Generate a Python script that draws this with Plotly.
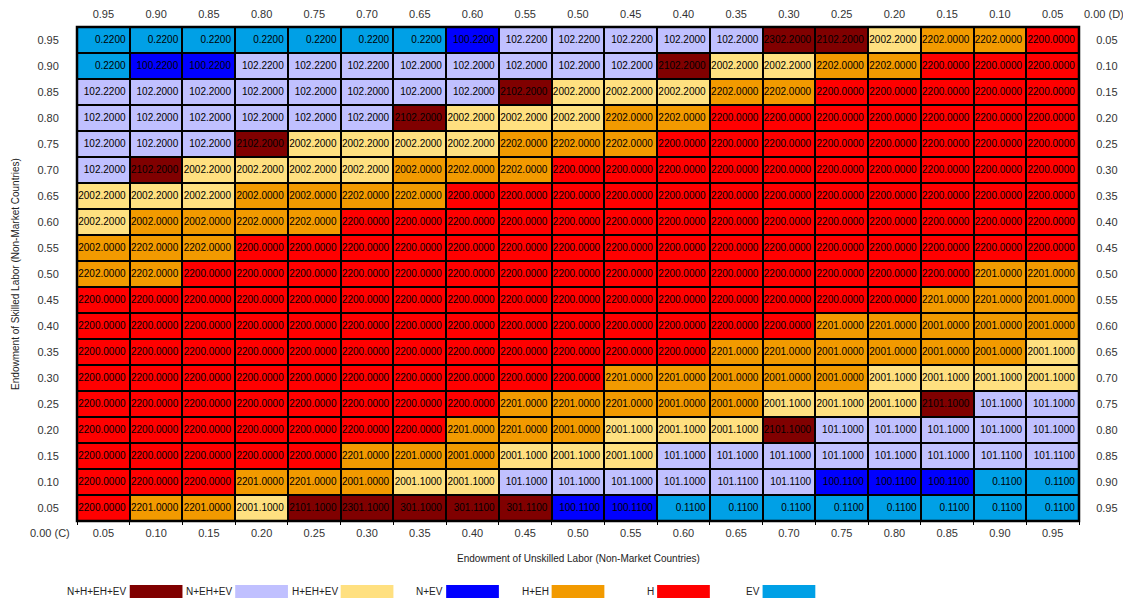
"""
Equilibrium regime map: skilled vs unskilled labour endowment (non-market countries).
"""

import plotly.graph_objects as go

FONT = "Liberation Sans, Arial, sans-serif"
PAGE_PAD = 8  # default body margin of the html page

# column / row values
UNSKILLED = [0.05, 0.10, 0.15, 0.20, 0.25, 0.30, 0.35, 0.40, 0.45, 0.50,
             0.55, 0.60, 0.65, 0.70, 0.75, 0.80, 0.85, 0.90, 0.95]
SKILLED_TOP_DOWN = [0.95, 0.90, 0.85, 0.80, 0.75, 0.70, 0.65, 0.60, 0.55, 0.50,
                    0.45, 0.40, 0.35, 0.30, 0.25, 0.20, 0.15, 0.10, 0.05]

# regime codes, one row per skilled value (top row = 0.95), left -> right = unskilled 0.05 .. 0.95
CODES = [
    [0.22, 0.22, 0.22, 0.22, 0.22, 0.22, 0.22, 100.22, 102.22, 102.22, 102.22, 102.20, 102.20, 2302.20, 2102.20, 2002.20, 2202.00, 2202.00, 2200.00],
    [0.22, 100.22, 100.22, 102.22, 102.22, 102.22, 102.20, 102.20, 102.20, 102.20, 102.20, 2102.20, 2002.20, 2002.20, 2202.00, 2202.00, 2200.00, 2200.00, 2200.00],
    [102.22, 102.20, 102.20, 102.20, 102.20, 102.20, 102.20, 102.20, 2102.20, 2002.20, 2002.20, 2002.20, 2202.00, 2202.00, 2200.00, 2200.00, 2200.00, 2200.00, 2200.00],
    [102.20, 102.20, 102.20, 102.20, 102.20, 102.20, 2102.20, 2002.20, 2002.20, 2002.20, 2202.00, 2202.00, 2200.00, 2200.00, 2200.00, 2200.00, 2200.00, 2200.00, 2200.00],
    [102.20, 102.20, 102.20, 2102.20, 2002.20, 2002.20, 2002.20, 2002.20, 2202.00, 2202.00, 2202.00, 2200.00, 2200.00, 2200.00, 2200.00, 2200.00, 2200.00, 2200.00, 2200.00],
    [102.20, 2102.20, 2002.20, 2002.20, 2002.20, 2002.20, 2002.00, 2202.00, 2202.00, 2200.00, 2200.00, 2200.00, 2200.00, 2200.00, 2200.00, 2200.00, 2200.00, 2200.00, 2200.00],
    [2002.20, 2002.20, 2002.20, 2002.00, 2002.00, 2202.00, 2202.00, 2200.00, 2200.00, 2200.00, 2200.00, 2200.00, 2200.00, 2200.00, 2200.00, 2200.00, 2200.00, 2200.00, 2200.00],
    [2002.20, 2002.00, 2002.00, 2202.00, 2202.00, 2200.00, 2200.00, 2200.00, 2200.00, 2200.00, 2200.00, 2200.00, 2200.00, 2200.00, 2200.00, 2200.00, 2200.00, 2200.00, 2200.00],
    [2002.00, 2202.00, 2202.00, 2200.00, 2200.00, 2200.00, 2200.00, 2200.00, 2200.00, 2200.00, 2200.00, 2200.00, 2200.00, 2200.00, 2200.00, 2200.00, 2200.00, 2200.00, 2200.00],
    [2202.00, 2202.00, 2200.00, 2200.00, 2200.00, 2200.00, 2200.00, 2200.00, 2200.00, 2200.00, 2200.00, 2200.00, 2200.00, 2200.00, 2200.00, 2200.00, 2200.00, 2201.00, 2201.00],
    [2200.00, 2200.00, 2200.00, 2200.00, 2200.00, 2200.00, 2200.00, 2200.00, 2200.00, 2200.00, 2200.00, 2200.00, 2200.00, 2200.00, 2200.00, 2200.00, 2201.00, 2201.00, 2001.00],
    [2200.00, 2200.00, 2200.00, 2200.00, 2200.00, 2200.00, 2200.00, 2200.00, 2200.00, 2200.00, 2200.00, 2200.00, 2200.00, 2200.00, 2201.00, 2201.00, 2001.00, 2001.00, 2001.00],
    [2200.00, 2200.00, 2200.00, 2200.00, 2200.00, 2200.00, 2200.00, 2200.00, 2200.00, 2200.00, 2200.00, 2200.00, 2201.00, 2201.00, 2001.00, 2001.00, 2001.00, 2001.00, 2001.10],
    [2200.00, 2200.00, 2200.00, 2200.00, 2200.00, 2200.00, 2200.00, 2200.00, 2200.00, 2200.00, 2201.00, 2201.00, 2001.00, 2001.00, 2001.00, 2001.10, 2001.10, 2001.10, 2001.10],
    [2200.00, 2200.00, 2200.00, 2200.00, 2200.00, 2200.00, 2200.00, 2200.00, 2201.00, 2201.00, 2201.00, 2001.00, 2001.00, 2001.10, 2001.10, 2001.10, 2101.10, 101.10, 101.10],
    [2200.00, 2200.00, 2200.00, 2200.00, 2200.00, 2200.00, 2200.00, 2201.00, 2201.00, 2001.00, 2001.10, 2001.10, 2001.10, 2101.10, 101.10, 101.10, 101.10, 101.10, 101.10],
    [2200.00, 2200.00, 2200.00, 2200.00, 2200.00, 2201.00, 2201.00, 2001.00, 2001.10, 2001.10, 2001.10, 101.10, 101.10, 101.10, 101.10, 101.10, 101.10, 101.11, 101.11],
    [2200.00, 2200.00, 2200.00, 2201.00, 2201.00, 2001.00, 2001.10, 2001.10, 101.10, 101.10, 101.10, 101.10, 101.11, 101.11, 100.11, 100.11, 100.11, 0.11, 0.11],
    [2200.00, 2201.00, 2201.00, 2001.10, 2101.10, 2301.10, 301.10, 301.11, 301.11, 100.11, 100.11, 0.11, 0.11, 0.11, 0.11, 0.11, 0.11, 0.11, 0.11],
]

# legend order and colours
REGIMES = ["N+H+EH+EV", "N+EH+EV", "H+EH+EV", "N+EV", "H+EH", "H", "EV"]
REGIME_COLORS = ["#800000", "#C0C0FF", "#FFE080", "#0000FF", "#F29A00", "#FF0000", "#00A0E6"]

# which regime each code belongs to
CODE_REGIME = {
    2302.20: "N+H+EH+EV", 2102.20: "N+H+EH+EV", 2101.10: "N+H+EH+EV",
    2301.10: "N+H+EH+EV", 301.10: "N+H+EH+EV", 301.11: "N+H+EH+EV",
    102.22: "N+EH+EV", 102.20: "N+EH+EV", 101.10: "N+EH+EV", 101.11: "N+EH+EV",
    2002.20: "H+EH+EV", 2001.10: "H+EH+EV",
    100.22: "N+EV", 100.11: "N+EV",
    2202.00: "H+EH", 2002.00: "H+EH", 2201.00: "H+EH", 2001.00: "H+EH",
    2200.00: "H",
    0.22: "EV", 0.11: "EV",
}


def regime_map() -> go.Figure:
    n = len(REGIMES)
    scale = []
    for i, c in enumerate(REGIME_COLORS):
        scale += [[i / n, c], [(i + 1) / n, c]]

    z = [[REGIMES.index(CODE_REGIME[v]) for v in row] for row in CODES]

    fig = go.Figure()
    fig.add_trace(go.Heatmap(
        x=UNSKILLED, y=SKILLED_TOP_DOWN, z=z,
        colorscale=scale, zmin=-0.5, zmax=n - 0.5,
        xgap=2, ygap=2, showscale=False, hoverinfo="skip",
    ))

    # cell labels, right aligned inside each cell
    half = (UNSKILLED[1] - UNSKILLED[0]) / 2
    tx, ty, tt = [], [], []
    for r, row in enumerate(CODES):
        for c, v in enumerate(row):
            tx.append(UNSKILLED[c] + half * 0.84)
            ty.append(SKILLED_TOP_DOWN[r])
            tt.append(f"{v:.4f}")
    fig.add_trace(go.Scatter(
        x=tx, y=ty, text=tt, mode="text", textposition="middle left",
        textfont=dict(family=FONT, size=10, color="#000000"),
        xaxis="x2", yaxis="y2", hoverinfo="skip", showlegend=False,
    ))

    rng = [UNSKILLED[0] - half, UNSKILLED[-1] + half]
    yrng = [min(SKILLED_TOP_DOWN) - half, max(SKILLED_TOP_DOWN) + half]
    tickfont = dict(family=FONT, size=11, color="#333333")
    bounds = [v - half for v in UNSKILLED] + [UNSKILLED[-1] + half]
    common = dict(showgrid=False, zeroline=False, automargin=False, tickcolor="rgba(0,0,0,0)",
                  ticks="outside", tickfont=tickfont)

    fig.update_layout(
        width=1131 - PAGE_PAD, height=601 - PAGE_PAD,
        paper_bgcolor="white", plot_bgcolor="black",
        margin=dict(l=77 - PAGE_PAD, r=52, t=27 - PAGE_PAD, b=80),
        showlegend=False,
        xaxis=dict(range=rng, tickvals=UNSKILLED, ticktext=[f"{v:.2f}" for v in UNSKILLED],
                   ticklen=2,
                   minor=dict(tickvals=bounds, ticks="outside", ticklen=3, tickcolor="#000000"),
                   **common),
        xaxis2=dict(range=rng, overlaying="x", side="top", anchor="y2",
                    tickvals=UNSKILLED, ticktext=[f"{1 - v:.2f}" for v in UNSKILLED],
                    ticklen=4, **common),
        yaxis=dict(range=yrng, tickvals=SKILLED_TOP_DOWN,
                   ticktext=[f"{v:.2f}" for v in SKILLED_TOP_DOWN],
                   ticklen=15, **common),
        yaxis2=dict(range=yrng, overlaying="y", side="right", anchor="x2",
                    tickvals=SKILLED_TOP_DOWN, ticktext=[f"{1 - v:.2f}" for v in SKILLED_TOP_DOWN],
                    ticklen=14, **common),
    )

    fig.add_shape(type="rect", xref="paper", yref="paper", x0=0, x1=1, y0=0, y1=1,
                  line=dict(color="black", width=2.5))

    ann = dict(xref="paper", yref="paper", showarrow=False, xanchor="center", yanchor="middle")
    fig.add_annotation(text="Endowment of Unskilled Labor (Non-Market Countries)",
                       x=0.5, y=-0.075, font=dict(family=FONT, size=10, color="#222222"), **ann)
    fig.add_annotation(text="Endowment of Skilled Labor (Non-Market Countries)",
                       x=-0.062, y=0.5, textangle=-90,
                       font=dict(family=FONT, size=10, color="#222222"), **ann)
    fig.add_annotation(text="0.00 (C)", x=-0.027, y=-0.0243, font=tickfont, **ann)
    fig.add_annotation(text="0.00 (D)", x=1.025, y=1.0263, font=tickfont, **ann)

    # legend: swatch in every other column, label right-aligned just before it
    for i, (name, color) in enumerate(zip(REGIMES, REGIME_COLORS)):
        col = 1 + 2 * i
        x0 = UNSKILLED[col] - half
        x1 = UNSKILLED[col] + half
        fig.add_shape(type="rect", xref="x", yref="paper", x0=x0, x1=x1,
                      y0=-0.156, y1=-0.1296, line=dict(width=0), fillcolor=color)
        fig.add_annotation(text=name, xref="x", yref="paper", x=x0, y=-0.1428,
                           xanchor="right", yanchor="middle", xshift=-1, showarrow=False,
                           font=dict(family=FONT, size=10, color="#222222"))
    return fig


fig = regime_map()
fig.write_html("out.html")
